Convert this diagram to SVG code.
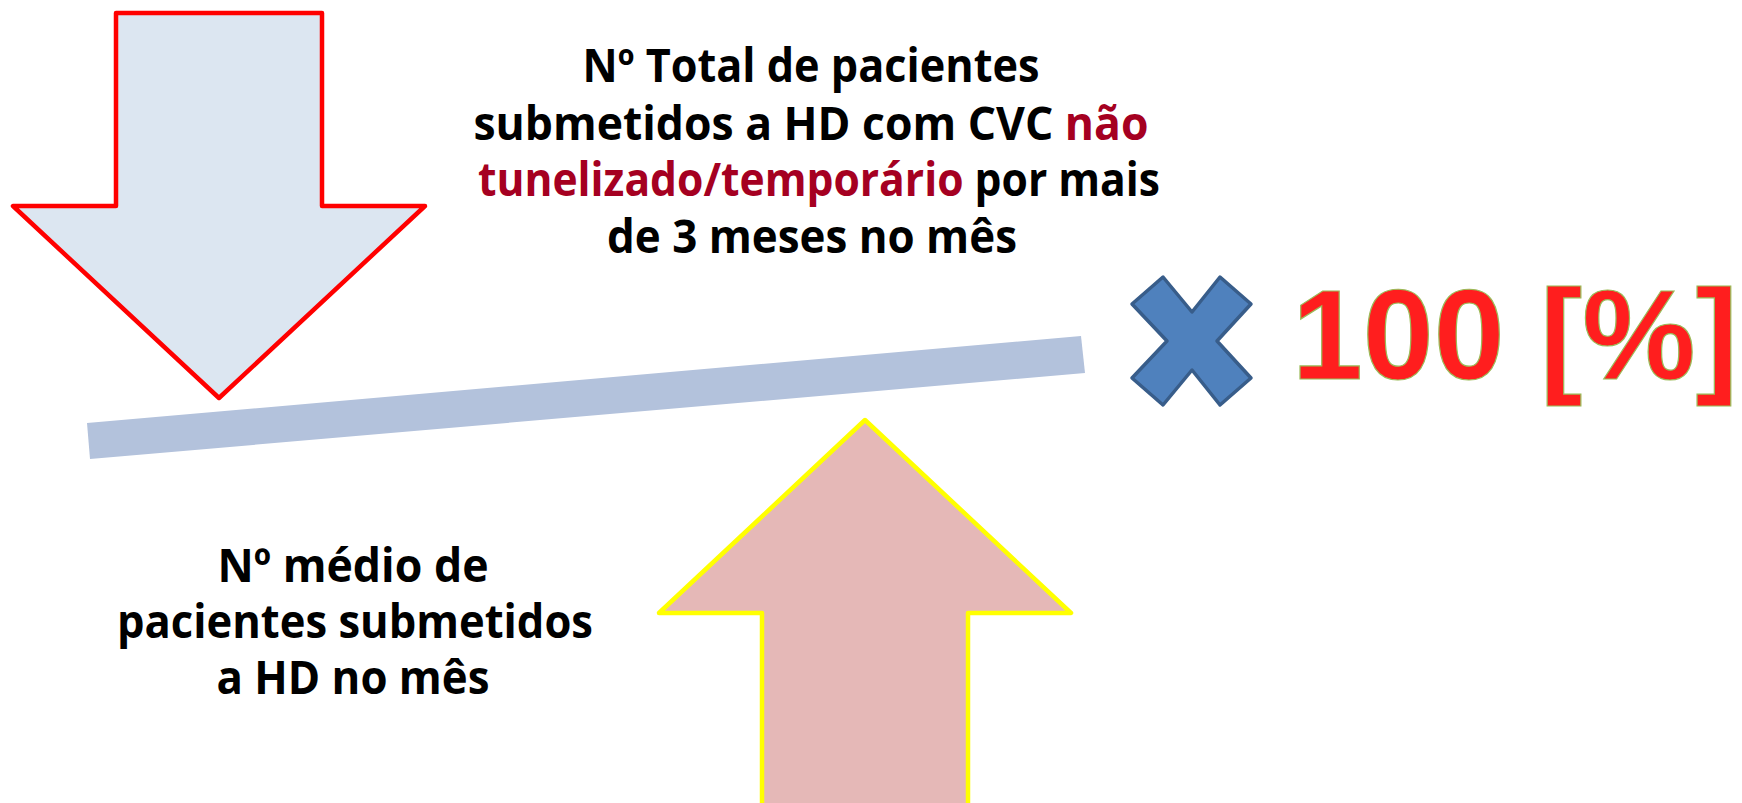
<svg xmlns="http://www.w3.org/2000/svg" width="1742" height="803" viewBox="0 0 1742 803">
<style>
.lbl{font-family:"Open Sans","Liberation Sans",sans-serif;font-weight:bold;fill:#000;text-anchor:middle}
.hl{fill:#A50021}
.big{font-family:"Liberation Sans",Arial,sans-serif;font-weight:bold;font-size:128px;fill:#FF1E1E;stroke:#9BBB59;stroke-width:1.2}
</style>
<rect width="1742" height="803" fill="#fff"/>
<g id="arrow-down">
<polygon points="116,13 322,13 322,206 425,206 219,398 13,206 116,206" fill="#DCE6F1" stroke="#FF0000" stroke-width="4.5" stroke-linejoin="round"/>
</g>
<g id="arrow-up">
<polygon points="865,420 1071,613 968,613 968,810 762,810 762,613 659,613" fill="#E5B8B7" stroke="#FFFF00" stroke-width="4.5" stroke-linejoin="round"/>
</g>
<g id="connectors">
<polygon id="fraction-bar" points="87,423 1081,336 1085,373 90,459" fill="#B3C2DC"/>
</g>
<g id="times">
<polygon points="1163,277 1192,312 1220,277 1251,304 1217,341 1251,378 1220,405 1192,370 1163,405 1132,378 1167,341 1132,304" fill="#4F81BD" stroke="#385D8A" stroke-width="3.5" stroke-linejoin="round"/>
</g>
<g id="percent">
<text class="big" x="1292" y="379" textLength="446" lengthAdjust="spacingAndGlyphs">100 [%]</text>
</g>
<g id="numerator">
<text class="lbl" font-size="46" x="811" y="82" textLength="457" lengthAdjust="spacingAndGlyphs">Nº Total de pacientes</text>
<text class="lbl" font-size="46" x="811" y="140" textLength="675" lengthAdjust="spacingAndGlyphs">submetidos a HD com CVC <tspan class="hl">não</tspan></text>
<text class="lbl" font-size="46" x="819" y="196" textLength="682" lengthAdjust="spacingAndGlyphs"><tspan class="hl">tunelizado/temporário</tspan> por mais</text>
<text class="lbl" font-size="46" x="812" y="253" textLength="410" lengthAdjust="spacingAndGlyphs">de 3 meses no mês</text>
</g>
<g id="denominator">
<text class="lbl" font-size="47" x="353" y="582" textLength="271" lengthAdjust="spacingAndGlyphs">Nº médio de</text>
<text class="lbl" font-size="47" x="355" y="638" textLength="476" lengthAdjust="spacingAndGlyphs">pacientes submetidos</text>
<text class="lbl" font-size="47" x="353" y="694" textLength="273" lengthAdjust="spacingAndGlyphs">a HD no mês</text>
</g>
</svg>
